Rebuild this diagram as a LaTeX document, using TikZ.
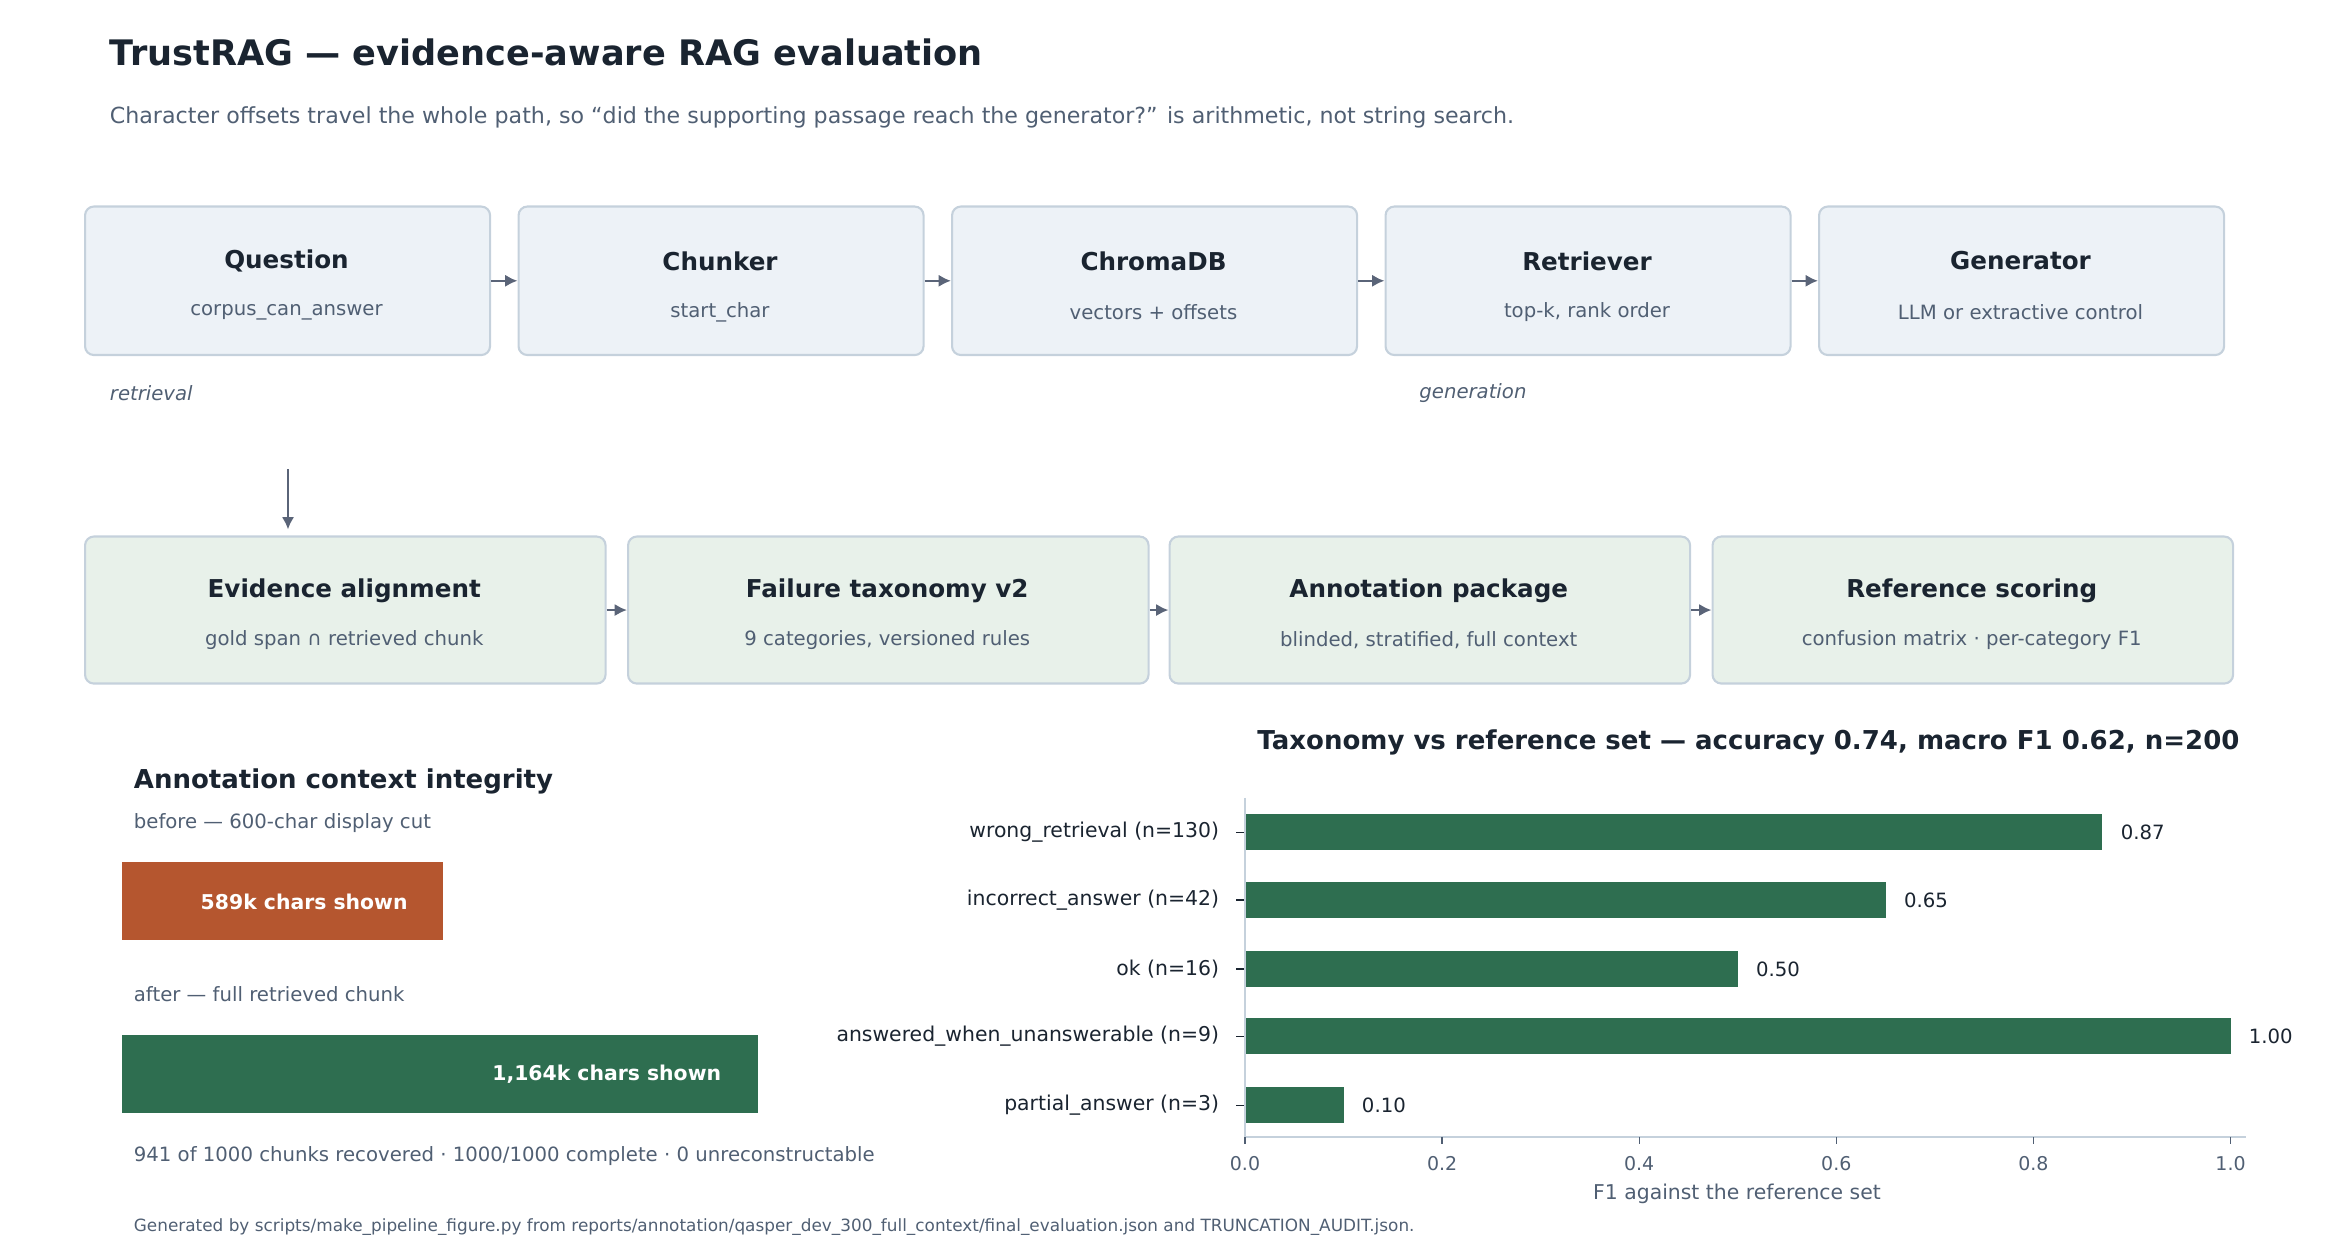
\documentclass[tikz,border=0pt]{standalone}
\usepackage{fontspec}
\setmainfont{DejaVu Sans}
\usetikzlibrary{arrows.meta}
\definecolor{ink}{HTML}{1A2430}
\definecolor{sub}{HTML}{505F73}
\definecolor{arr}{HTML}{5A6478}
\definecolor{bluef}{HTML}{EDF2F7}
\definecolor{greenf}{HTML}{E8F1EA}
\definecolor{bord}{HTML}{C5D1DC}
\definecolor{orangeb}{HTML}{B5562F}
\definecolor{greenb}{HTML}{2E6E50}
\tikzset{
 box/.style={draw=bord,line width=0.6pt,rounded corners=2.5pt,anchor=north west,inner sep=0pt},
 btitle/.style={font=\fontsize{7}{8}\selectfont\bfseries,text=ink},
 bsub/.style={font=\fontsize{5.6}{7}\selectfont,text=sub},
 flow/.style={draw=arr,line width=0.7pt,-{Latex[length=3.5pt,width=3.5pt]}},
 lab/.style={font=\fontsize{5.6}{7}\selectfont,text=sub,anchor=west},
 tick/.style={font=\fontsize{5.4}{7}\selectfont,text=sub},
}
\begin{document}
\begin{tikzpicture}[x=0.015cm,y=-0.015cm]
\useasboundingbox (0,0) rectangle (1564,835);
\node[anchor=west,font=\fontsize{10}{12}\selectfont\bfseries,text=ink] (title) at (65,35) {TrustRAG — evidence-aware RAG evaluation};
\node[lab,font=\fontsize{6.3}{8}\selectfont] (subt) at (65,78) {Character offsets travel the whole path, so “did the supporting passage reach the generator?” is arithmetic, not string search.};
% top row
\foreach \n/\x/\t/\s in {q/56/Question/corpus\_can\_answer, c/345/Chunker/start\_char / end\_char, d/634/ChromaDB/vectors + offsets, r/923/Retriever/{top-k, rank order}, g/1212/Generator/LLM or extractive control}{
 \node[box,fill=bluef,minimum width=270*0.015cm,minimum height=99*0.015cm] (\n) at (\x,137) {};
 \node[btitle] at (\x+135,174) {\t};
 \node[bsub] at (\x+135,208) {\s};
}
\draw[flow] (q.east) -- (c.west);
\draw[flow] (c.east) -- (d.west);
\draw[flow] (d.east) -- (r.west);
\draw[flow] (r.east) -- (g.west);
\node[lab,font=\fontsize{5.6}{7}\selectfont\itshape] (lr) at (65,262) {retrieval};
\node[lab,font=\fontsize{5.6}{7}\selectfont\itshape] (lg) at (938,262) {generation};
% bottom row
\foreach \n/\x/\t/\s in {e/56/Evidence alignment/gold span ∩ retrieved chunk, f/418/Failure taxonomy v2/{9 categories, versioned rules}, a/779/Annotation package/{blinded, stratified, full context}, s/1141/Reference scoring/confusion matrix · per-category F1}{
 \node[box,fill=greenf,minimum width=347*0.015cm,minimum height=98*0.015cm] (\n) at (\x,357) {};
 \node[btitle] at (\x+173.5,394) {\t};
 \node[bsub] at (\x+173.5,427) {\s};
}
\coordinate (dtop) at (192,313);
\draw[flow] (dtop) -- (192,353);
\draw[flow] (e.east) -- (f.west);
\draw[flow] (f.east) -- (a.west);
\draw[flow] (a.east) -- (s.west);
% annotation integrity
\node[anchor=west,font=\fontsize{7.4}{9}\selectfont\bfseries,text=ink] (ai) at (81,521) {Annotation context integrity};
\node[lab] (bef) at (81,549) {before — 600-char display cut};
\fill[orangeb] (81,575) rectangle (295,627);
\node[anchor=east,font=\fontsize{5.8}{7}\selectfont\bfseries,text=white] (b1) at (280,601) {589k chars shown};
\node[lab] (aft) at (81,663) {after — full retrieved chunk};
\fill[greenb] (81,690) rectangle (505,742);
\node[anchor=east,font=\fontsize{5.8}{7}\selectfont\bfseries,text=white] (b2) at (489,716) {1,164k chars shown};
\node[lab] (rec) at (81,771) {941 of 1000 chunks recovered · 1000/1000 complete · 0 unreconstructable};
\node[anchor=west,font=\fontsize{4.8}{6}\selectfont,text=sub] (foot) at (81,818) {Generated by scripts/make\_pipeline\_figure.py from reports/annotation/qasper\_dev\_300\_full\_context/final\_evaluation.json and TRUNCATION\_AUDIT.json.};
% chart
\node[anchor=west,font=\fontsize{7.4}{9}\selectfont\bfseries,text=ink] (ct) at (830,495) {Taxonomy vs reference set — accuracy 0.74, macro F1 0.62, n=200};
\foreach \y/\v/\l in {555/0.87/{wrong\_retrieval  (n=130)},600/0.65/{incorrect\_answer  (n=42)},646/0.50/{ok  (n=16)},691/1.00/{answered\_when\_unanswerable  (n=9)},737/0.10/{partial\_answer  (n=3)}}{
 \fill[greenb] (830,\y-12) rectangle (830+657*\v,\y+12);
 \node[anchor=west,font=\fontsize{5.6}{7}\selectfont,text=ink] at (830+657*\v+4,\y) {\v};
 \draw[ink,line width=0.4pt] (824,\y) -- (830,\y);
 \node[anchor=east,font=\fontsize{5.8}{7}\selectfont,text=ink] at (821,\y) {\l};
}
\draw[bord,line width=0.6pt] (830,532) -- (830,758) -- (1497,758);
\foreach \t in {0.0,0.2,0.4,0.6,0.8,1.0}{
 \draw[sub,line width=0.4pt] (830+657*\t,758) -- (830+657*\t,763);
 \node[tick] at (830+657*\t,776) {\t};
}
\node[tick,font=\fontsize{5.8}{7}\selectfont] (xl) at (1158,796) {F1 against the reference set};
\end{tikzpicture}
\end{document}
